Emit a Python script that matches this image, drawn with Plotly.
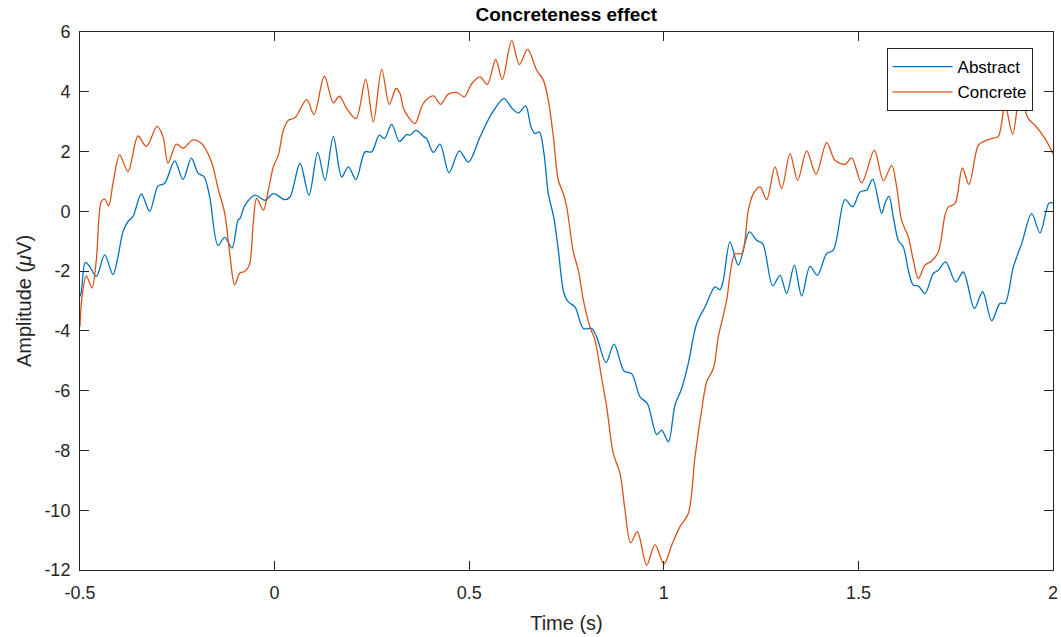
import plotly.graph_objects as go

# Abstract (blue) trace: time (s), amplitude (uV)
abstract_t = [-0.5, -0.4965, -0.4863, -0.4751, -0.4580, -0.4366, -0.4152, -0.4023, -0.3895, -0.3766,
              -0.3638, -0.3424, -0.3210, -0.2995, -0.2824, -0.2567, -0.2353, -0.2139, -0.1968, -0.1813,
              -0.1668, -0.1454, -0.1282, -0.1094, -0.0940,
              -0.0889, -0.0761, -0.0504, -0.0247, -0.0032, 0.0267, 0.0396, 0.0653, 0.0884, 0.1107,
              0.1295, 0.1509, 0.1723, 0.1895, 0.2092, 0.2323, 0.2494, 0.2691, 0.2820, 0.3008, 0.3205,
              0.3393, 0.3479, 0.3633, 0.3822, 0.3907, 0.4079, 0.4250, 0.4481, 0.4747, 0.4978, 0.5278,
              0.5577, 0.5894, 0.6091, 0.6263, 0.6451, 0.6588, 0.6691, 0.6802, 0.6922, 0.7033, 0.7179,
              0.7290, 0.7436, 0.7547, 0.7718, 0.7933, 0.8147, 0.8275, 0.8515, 0.8721, 0.8977,
              0.9174, 0.9389, 0.9577, 0.9817, 0.9945, 1.0117, 1.0288, 1.0459, 1.0630, 1.0845, 1.1059,
              1.1316, 1.1444, 1.1530, 1.1701, 1.1915, 1.2198, 1.2386, 1.2540, 1.2797, 1.2986, 1.3157,
              1.3354, 1.3542, 1.3757, 1.3945, 1.4185, 1.4356, 1.4656, 1.4853, 1.5041, 1.5213, 1.5367,
              1.5598, 1.5683, 1.5786, 1.5897, 1.6026, 1.6154, 1.6283, 1.6411, 1.6540, 1.6711, 1.6925,
              1.7054, 1.7242, 1.7499, 1.7696, 1.7979, 1.8193, 1.8424, 1.8638, 1.8767, 1.8981, 1.9195,
              1.9452, 1.9666, 1.9898, 2.0]
abstract_v = [-2.85, -2.68, -1.71, -1.85, -2.18, -1.46, -2.12, -1.51, -0.68, -0.34,
              -0.17, 0.58, 0.00, 0.85, 0.94, 1.69, 1.07, 1.78, 1.28, 1.16,
              0.49, -1.14, -0.87, -1.23, -0.29,
              -0.24, 0.20, 0.54, 0.37, 0.59, 0.39, 0.48, 1.60, 0.54, 1.97,
              1.04, 2.51, 1.15, 1.49, 1.06, 1.99, 1.99, 2.55, 2.43, 2.91, 2.34,
              2.57, 2.55, 2.71, 2.51, 2.43, 1.97, 2.25, 1.29, 2.02, 1.65, 2.49,
              3.27, 3.77, 3.46, 3.29, 3.53, 2.82, 2.60, 2.66, 1.93, 0.59, -0.24,
              -1.30, -2.75, -3.03, -3.20, -3.92, -3.92, -4.20, -5.06, -4.44, -5.34,
              -5.43, -6.21, -6.43, -7.47, -7.32, -7.71, -6.48, -5.93, -5.09, -3.75, -3.20,
              -2.53, -2.62, -2.30, -1.02, -1.80, -0.69, -0.97, -1.08, -2.49, -2.14, -2.75,
              -1.80, -2.83, -1.84, -2.14, -1.41, -1.30, 0.39, 0.15, 0.65, 0.71, 1.07,
              -0.07, 0.26, 0.51, -0.19, -0.97, -1.19, -1.97, -2.47, -2.50, -2.75, -2.08,
              -1.97, -1.69, -2.36, -2.03, -3.25, -2.69, -3.66, -3.08, -3.08, -1.86, -1.08,
              -0.08, -0.72, 0.28, 0.28]

# Concrete (orange) trace
concrete_t = [-0.5, -0.4948, -0.4837, -0.4691, -0.4580, -0.4451, -0.4366, -0.4263, -0.4152, -0.3980,
              -0.3766, -0.3509, -0.3295, -0.3021, -0.2867, -0.2738, -0.2524, -0.2353, -0.2096, -0.1882,
              -0.1625, -0.1454, -0.1282, -0.1154, -0.1026, -0.0897, -0.0768,
              -0.0649, -0.0546, -0.0461, -0.0289, -0.0161, -0.0032, 0.0096, 0.0224, 0.0353, 0.0524,
              0.0824, 0.1012, 0.1278, 0.1509, 0.1663, 0.1852, 0.2092, 0.2340, 0.2537, 0.2751, 0.2948,
              0.3119, 0.3222, 0.3308, 0.3436, 0.3607, 0.3822, 0.4079, 0.4267, 0.4464, 0.4695, 0.4875,
              0.5063, 0.5278, 0.5466, 0.5680, 0.5851, 0.6091, 0.6288, 0.6502, 0.6734, 0.6905, 0.7033,
              0.7162, 0.7290, 0.7419, 0.7505, 0.7676, 0.7804, 0.7933, 0.8104, 0.8232, 0.8404, 0.8532,
              0.8703, 0.8875, 0.9003, 0.9149, 0.9320, 0.9560, 0.9774, 1.0005, 1.0202, 1.0416, 1.0630,
              1.0802, 1.0973, 1.1102, 1.1273, 1.1401, 1.1530, 1.1616, 1.1829, 1.2001, 1.2172, 1.2301,
              1.2472, 1.2643, 1.2857, 1.3029, 1.3243, 1.3440, 1.3671, 1.3911, 1.4185, 1.4399, 1.4656,
              1.4827, 1.5084, 1.5410, 1.5641, 1.5854, 1.5983, 1.6111, 1.6283, 1.6411, 1.6540, 1.6711,
              1.6882, 1.7054, 1.7225, 1.7311, 1.7482, 1.7670, 1.7842, 1.8081, 1.8253, 1.8424, 1.8595,
              1.8767, 1.8964, 1.9152, 1.9366, 1.9538, 1.9795, 2.0]
concrete_v = [-3.85, -2.85, -2.16, -2.57, -1.62, 0.33, 0.41, 0.18, 0.94, 1.89,
              1.33, 2.52, 2.17, 2.84, 2.50, 1.61, 2.25, 2.11, 2.39, 2.28,
              1.67, 0.77, -0.06, -1.40, -2.46, -2.07, -2.01,
              -1.80, -0.35, 0.43, 0.04, 0.71, 1.49, 1.88, 2.71, 3.05, 3.13,
              3.74, 3.24, 4.52, 3.63, 3.85, 3.44, 3.10, 4.41, 2.99, 4.75, 3.58,
              4.11, 3.94, 3.46, 3.16, 2.94, 3.61, 3.86, 3.58, 3.92, 3.97, 3.83,
              4.27, 4.50, 4.25, 5.08, 4.41, 5.72, 4.91, 5.42, 4.72, 4.39, 3.72,
              2.49, 1.04, 0.59, 0.15, -1.36, -1.97, -2.97, -3.87, -4.31, -5.59, -6.54,
              -8.10, -8.77, -10.00, -11.09, -10.72, -11.84, -11.15, -11.80, -11.17, -10.55, -10.11,
              -8.21, -6.65, -5.70, -5.26, -4.20, -3.47, -2.97, -1.43, -1.41, 0.04, 0.59,
              0.82, 0.39, 1.49, 0.76, 1.93, 1.04, 2.02, 1.24, 2.30, 1.71, 1.57,
              1.79, 0.95, 2.04, 1.02, 1.54, 0.82, -0.30, -0.86, -1.64, -2.25, -1.80,
              -1.66, -1.36, -0.13, 0.15, 0.26, 1.45, 0.90, 2.21, 2.36, 2.43, 2.51,
              3.55, 2.58, 3.90, 3.10, 2.88, 2.43, 1.93]

x_ticks = [-0.5, 0, 0.5, 1, 1.5, 2]
x_tick_labels = ["-0.5", "0", "0.5", "1", "1.5", "2"]
y_ticks = [-12, -10, -8, -6, -4, -2, 0, 2, 4, 6]
y_tick_labels = ["-12", "-10", "-8", "-6", "-4", "-2", "0", "2", "4", "6"]

FONT = "Liberation Sans, Arial, Helvetica, sans-serif"
AX = "#262626"

fig = go.Figure()
fig.add_trace(go.Scatter(x=abstract_t, y=abstract_v, mode="lines", name="Abstract",
                         line=dict(color="#0072BD", width=1.3, shape="spline", smoothing=0.9)))
fig.add_trace(go.Scatter(x=concrete_t, y=concrete_v, mode="lines", name="Concrete",
                         line=dict(color="#D95319", width=1.3, shape="spline", smoothing=0.9)))

axis_common = dict(showline=True, linecolor=AX, linewidth=1, mirror="ticks",
                   ticks="inside", ticklen=9, tickcolor=AX, tickwidth=1,
                   showgrid=False, zeroline=False, automargin=False,
                   tickfont=dict(family=FONT, size=18, color=AX))

fig.update_layout(
    width=1061, height=637,
    margin=dict(l=80, r=8, t=32, b=67),
    paper_bgcolor="white", plot_bgcolor="white",
    title=dict(text="<b>Concreteness effect</b>", x=0.5338, xanchor="center",
               y=0.978, yanchor="middle",
               font=dict(family=FONT, size=19, color="black")),
    xaxis=dict(range=[-0.5, 2], tickvals=x_ticks, ticktext=x_tick_labels,
               ticklabelstandoff=6,
               title=dict(text="Time (s)", font=dict(family=FONT, size=20, color=AX), standoff=14),
               **axis_common),
    yaxis=dict(range=[-12, 6], tickvals=y_ticks, ticktext=y_tick_labels,
               ticklabelstandoff=5,
               title=dict(text="Amplitude (<i>μ</i>V)", font=dict(family=FONT, size=20, color=AX), standoff=7),
               **axis_common),
    legend=dict(x=0.979, y=0.970, xanchor="right", yanchor="top",
                bgcolor="white", bordercolor=AX, borderwidth=1,
                font=dict(family=FONT, size=17, color="black"),
                tracegroupgap=0, itemwidth=60),
    showlegend=True,
)

fig.write_html("out.html",
               config={"displayModeBar": False},
               post_script="document.body.style.margin='0';document.body.style.overflow='hidden';")
